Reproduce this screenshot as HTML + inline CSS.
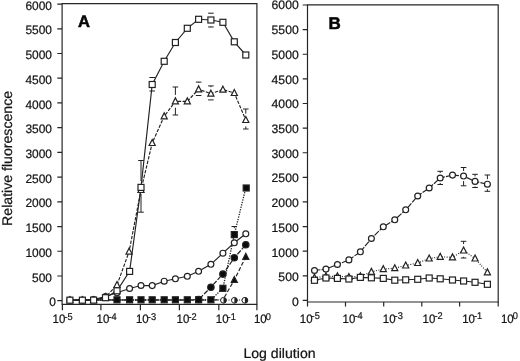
<!DOCTYPE html>
<html><head><meta charset="utf-8"><title>Figure</title>
<style>html,body{margin:0;padding:0;background:#fff}svg{display:block;will-change:transform}text{font-family:'Liberation Sans', sans-serif;fill:#141414;stroke:#141414;stroke-width:0.22px;text-rendering:geometricPrecision}</style>
</head><body>
<svg width="520" height="361" viewBox="0 0 520 361">
<rect width="520" height="361" fill="#fff"/>
<path d="M62.1 304.4V3.6H256.9V304.4Z" fill="none" stroke="#262626" stroke-width="1.2"/>
<path d="M57.3 300.7H62.1M57.3 275.98H62.1M57.3 251.26H62.1M57.3 226.54H62.1M57.3 201.82H62.1M57.3 177.1H62.1M57.3 152.38H62.1M57.3 127.66H62.1M57.3 102.94H62.1M57.3 78.22H62.1M57.3 53.5H62.1M57.3 28.78H62.1M57.3 4.06H62.1M62.4 304.4V310.2M100.9 304.4V310.2M140.4 304.4V310.2M179.4 304.4V310.2M218.8 304.4V310.2M256.9 304.4V310.2" fill="none" stroke="#262626" stroke-width="1.2"/>
<text transform="translate(55.9 306.3) scale(0.98 1)" text-anchor="end" font-size="12.2">0</text>
<text transform="translate(52 281.58) scale(0.98 1)" text-anchor="end" font-size="12.2">500</text>
<text transform="translate(52 256.86) scale(0.98 1)" text-anchor="end" font-size="12.2">1000</text>
<text transform="translate(52 232.14) scale(0.98 1)" text-anchor="end" font-size="12.2">1500</text>
<text transform="translate(52 207.42) scale(0.98 1)" text-anchor="end" font-size="12.2">2000</text>
<text transform="translate(52 182.7) scale(0.98 1)" text-anchor="end" font-size="12.2">2500</text>
<text transform="translate(52 157.98) scale(0.98 1)" text-anchor="end" font-size="12.2">3000</text>
<text transform="translate(52 133.26) scale(0.98 1)" text-anchor="end" font-size="12.2">3500</text>
<text transform="translate(52 108.54) scale(0.98 1)" text-anchor="end" font-size="12.2">4000</text>
<text transform="translate(52 83.82) scale(0.98 1)" text-anchor="end" font-size="12.2">4500</text>
<text transform="translate(52 59.1) scale(0.98 1)" text-anchor="end" font-size="12.2">5000</text>
<text transform="translate(52 34.38) scale(0.98 1)" text-anchor="end" font-size="12.2">5500</text>
<text transform="translate(52 9.66) scale(0.98 1)" text-anchor="end" font-size="12.2">6000</text>
<text transform="translate(52.6 323.4) scale(0.94 1)" font-size="12.2">10<tspan dx="-1" dy="-3.7" font-size="9.8">-5</tspan></text>
<text transform="translate(96.6 323.4) scale(0.94 1)" font-size="12.2">10<tspan dx="-1" dy="-3.7" font-size="9.8">-4</tspan></text>
<text transform="translate(136 323.4) scale(0.94 1)" font-size="12.2">10<tspan dx="-1" dy="-3.7" font-size="9.8">-3</tspan></text>
<text transform="translate(176.6 323.4) scale(0.94 1)" font-size="12.2">10<tspan dx="-1" dy="-3.7" font-size="9.8">-2</tspan></text>
<text transform="translate(215.8 323.4) scale(0.94 1)" font-size="12.2">10<tspan dx="-1" dy="-3.7" font-size="9.8">-1</tspan></text>
<text transform="translate(254 323.4) scale(0.94 1)" font-size="12.2">10<tspan dx="-1" dy="-3.7" font-size="9.8">0</tspan></text>
<text x="78.1" y="26.5" font-size="16.6" font-weight="bold" style="fill:#050505;stroke:#050505;stroke-width:0.5px">A</text>
<path d="M69.9 300L82.4 300L93.6 300L105.5 300L117 300L129.6 300L141 300L152.2 300L164.2 300L175.4 300L187.3 300L198.6 300L210.9 300L222.9 300L234.3 300L245.8 300" fill="none" stroke="#222" stroke-width="1.15" stroke-dasharray="1 1.6"/>
<path d="M69.9 300L82.4 300L93.6 300L105.5 300L117 300L129.6 300L141 300L152.2 300L164.2 300L175.4 300L187.3 300L198.6 300L210.9 300L222.9 299.8L234.3 280L245.8 256.8" fill="none" stroke="#222" stroke-width="1.2" stroke-dasharray="4 2"/>
<path d="M69.9 300L82.4 300L93.6 300L105.5 300L117 300L129.6 300L141 300L152.2 300L164.2 300L175.4 300L187.3 300L198.6 299.5L210.9 287.2L222.9 274.1L234.3 257.8L245.8 244.8" fill="none" stroke="#222" stroke-width="1.2" stroke-dasharray="5 1.5"/>
<path d="M69.9 300L82.4 300L93.6 300L105.5 300L117 299.8L129.6 299.8L141 299.8L152.2 299.8L164.2 299.8L175.4 299.8L187.3 299.8L198.6 299.8L210.9 299.8L222.9 288.3L234.3 234.6L245.8 188" fill="none" stroke="#222" stroke-width="1.3" stroke-dasharray="1.3 1.2"/>
<path d="M69.9 300L82.4 300L93.6 299.5L105.5 296.5L117 292.8L129.6 288.5L141 285.5L152.2 285.6L164.2 281.2L175.4 278.8L187.3 276.3L198.6 271.3L210.9 264.3L222.9 253.2L234.3 242.8L245.8 233.8" fill="none" stroke="#222" stroke-width="1.15"/>
<path d="M69.9 300.2L82.4 300.2L93.6 300.2L105.5 297L117 285L129.1 251.6L141 190L152.2 143L164.2 116.3L175.4 101.3L187.3 101.3L198.6 89.3L210.9 93.6L222.9 89.6L234.3 93L245.8 120" fill="none" stroke="#222" stroke-width="1.15" stroke-dasharray="3.4 1.4"/>
<path d="M69.9 300.2L82.4 300.2L93.6 300.1L105.5 297.7L117 290.8L129.6 271.4L141 187.4L152.2 84.5L164.2 61.3L175.4 42.5L187.3 28.3L198.6 19.3L210.9 20L222.9 22.3L234.3 41.8L245.8 55" fill="none" stroke="#222" stroke-width="1.15"/>
<path d="M138.2 160.5H143.8M141 160.5V181M138.2 212.2H143.8M141 193.8V212.2" fill="none" stroke="#222" stroke-width="1"/>
<path d="M149.4 77.5H155M152.2 77.5V78.1M149.4 91H155M152.2 90.9V91" fill="none" stroke="#222" stroke-width="1"/>
<path d="M172.6 87H178.2M175.4 87V94.9M172.6 115H178.2M175.4 107.7V115" fill="none" stroke="#222" stroke-width="1"/>
<path d="M195.8 82.1H201.4M198.6 82.1V82.9M195.8 95.5H201.4" fill="none" stroke="#222" stroke-width="1"/>
<path d="M208.1 85.9H213.7M210.9 85.9V87.2M208.1 99.9H213.7" fill="none" stroke="#222" stroke-width="1"/>
<path d="M243 109H248.6M245.8 109V113.6M243 129H248.6M245.8 126.4V129" fill="none" stroke="#222" stroke-width="1"/>
<path d="M208.1 13.2H213.7M210.9 13.2V13.6M208.1 27H213.7M210.9 26.4V27" fill="none" stroke="#222" stroke-width="1"/>
<path d="M231.5 226.5H237.1M234.3 226.5V228.2" fill="none" stroke="#222" stroke-width="1"/>
<circle cx="223.5" cy="300.3" r="2.9" fill="#fff" stroke="#222" stroke-width="1"/><path d="M223.5 297.4A2.9 2.9 0 0 1 223.5 303.2Z" fill="#222"/>
<circle cx="234.4" cy="300.3" r="2.9" fill="#fff" stroke="#222" stroke-width="1"/><path d="M234.4 297.4A2.9 2.9 0 0 1 234.4 303.2Z" fill="#222"/>
<circle cx="244.9" cy="300.3" r="2.9" fill="#fff" stroke="#222" stroke-width="1"/><path d="M244.9 297.4A2.9 2.9 0 0 1 244.9 303.2Z" fill="#222"/>
<path d="M234.3 276.58L237.35 282.48H231.25Z" fill="#0c0c0c" stroke="#222" stroke-width="1.2" stroke-linejoin="miter"/>
<path d="M245.8 253.38L248.85 259.28H242.75Z" fill="#0c0c0c" stroke="#222" stroke-width="1.2" stroke-linejoin="miter"/>
<circle cx="198.6" cy="299.5" r="3.2" fill="#0c0c0c" stroke="#222" stroke-width="1.2"/>
<circle cx="210.9" cy="287.2" r="3.2" fill="#0c0c0c" stroke="#222" stroke-width="1.2"/>
<circle cx="222.9" cy="274.1" r="3.2" fill="#0c0c0c" stroke="#222" stroke-width="1.2"/>
<circle cx="234.3" cy="257.8" r="3.2" fill="#0c0c0c" stroke="#222" stroke-width="1.2"/>
<circle cx="245.8" cy="244.8" r="3.2" fill="#0c0c0c" stroke="#222" stroke-width="1.2"/>
<circle cx="69.9" cy="300" r="2.95" fill="#fff" stroke="#222" stroke-width="1.2"/>
<circle cx="82.4" cy="300" r="2.95" fill="#fff" stroke="#222" stroke-width="1.2"/>
<circle cx="93.6" cy="299.5" r="2.95" fill="#fff" stroke="#222" stroke-width="1.2"/>
<circle cx="105.5" cy="296.5" r="2.95" fill="#fff" stroke="#222" stroke-width="1.2"/>
<circle cx="117" cy="292.8" r="2.95" fill="#fff" stroke="#222" stroke-width="1.2"/>
<circle cx="129.6" cy="288.5" r="2.95" fill="#fff" stroke="#222" stroke-width="1.2"/>
<circle cx="141" cy="285.5" r="2.95" fill="#fff" stroke="#222" stroke-width="1.2"/>
<circle cx="152.2" cy="285.6" r="2.95" fill="#fff" stroke="#222" stroke-width="1.2"/>
<circle cx="164.2" cy="281.2" r="2.95" fill="#fff" stroke="#222" stroke-width="1.2"/>
<circle cx="175.4" cy="278.8" r="2.95" fill="#fff" stroke="#222" stroke-width="1.2"/>
<circle cx="187.3" cy="276.3" r="2.95" fill="#fff" stroke="#222" stroke-width="1.2"/>
<circle cx="198.6" cy="271.3" r="2.95" fill="#fff" stroke="#222" stroke-width="1.2"/>
<circle cx="210.9" cy="264.3" r="2.95" fill="#fff" stroke="#222" stroke-width="1.2"/>
<circle cx="222.9" cy="253.2" r="2.95" fill="#fff" stroke="#222" stroke-width="1.2"/>
<circle cx="234.3" cy="242.8" r="2.95" fill="#fff" stroke="#222" stroke-width="1.2"/>
<circle cx="245.8" cy="233.8" r="2.95" fill="#fff" stroke="#222" stroke-width="1.2"/>
<rect x="114" y="296.8" width="6" height="6" fill="#0c0c0c" stroke="#222" stroke-width="1.2"/>
<rect x="126.6" y="296.8" width="6" height="6" fill="#0c0c0c" stroke="#222" stroke-width="1.2"/>
<rect x="138" y="296.8" width="6" height="6" fill="#0c0c0c" stroke="#222" stroke-width="1.2"/>
<rect x="149.2" y="296.8" width="6" height="6" fill="#0c0c0c" stroke="#222" stroke-width="1.2"/>
<rect x="161.2" y="296.8" width="6" height="6" fill="#0c0c0c" stroke="#222" stroke-width="1.2"/>
<rect x="172.4" y="296.8" width="6" height="6" fill="#0c0c0c" stroke="#222" stroke-width="1.2"/>
<rect x="184.3" y="296.8" width="6" height="6" fill="#0c0c0c" stroke="#222" stroke-width="1.2"/>
<rect x="195.6" y="296.8" width="6" height="6" fill="#0c0c0c" stroke="#222" stroke-width="1.2"/>
<rect x="207.9" y="296.8" width="6" height="6" fill="#0c0c0c" stroke="#222" stroke-width="1.2"/>
<rect x="219.9" y="285.3" width="6" height="6" fill="#0c0c0c" stroke="#222" stroke-width="1.2"/>
<rect x="231.3" y="231.6" width="6" height="6" fill="#0c0c0c" stroke="#222" stroke-width="1.2"/>
<rect x="243.2" y="185" width="6" height="6" fill="#0c0c0c" stroke="#222" stroke-width="1.2"/>
<path d="M69.9 296.78L72.95 302.68H66.85Z" fill="#fff" stroke="#222" stroke-width="1.2" stroke-linejoin="miter"/>
<path d="M82.4 296.78L85.45 302.68H79.35Z" fill="#fff" stroke="#222" stroke-width="1.2" stroke-linejoin="miter"/>
<path d="M93.6 296.78L96.65 302.68H90.55Z" fill="#fff" stroke="#222" stroke-width="1.2" stroke-linejoin="miter"/>
<path d="M105.5 293.58L108.55 299.48H102.45Z" fill="#fff" stroke="#222" stroke-width="1.2" stroke-linejoin="miter"/>
<path d="M117 281.58L120.05 287.48H113.95Z" fill="#fff" stroke="#222" stroke-width="1.2" stroke-linejoin="miter"/>
<path d="M129.1 248.18L132.15 254.08H126.05Z" fill="#fff" stroke="#222" stroke-width="1.2" stroke-linejoin="miter"/>
<path d="M141 186.58L144.05 192.48H137.95Z" fill="#fff" stroke="#222" stroke-width="1.2" stroke-linejoin="miter"/>
<path d="M152.2 139.58L155.25 145.48H149.15Z" fill="#fff" stroke="#222" stroke-width="1.2" stroke-linejoin="miter"/>
<path d="M164.2 112.88L167.25 118.78H161.15Z" fill="#fff" stroke="#222" stroke-width="1.2" stroke-linejoin="miter"/>
<path d="M175.4 97.88L178.45 103.78H172.35Z" fill="#fff" stroke="#222" stroke-width="1.2" stroke-linejoin="miter"/>
<path d="M187.3 97.88L190.35 103.78H184.25Z" fill="#fff" stroke="#222" stroke-width="1.2" stroke-linejoin="miter"/>
<path d="M198.6 85.88L201.65 91.78H195.55Z" fill="#fff" stroke="#222" stroke-width="1.2" stroke-linejoin="miter"/>
<path d="M210.9 90.18L213.95 96.08H207.85Z" fill="#fff" stroke="#222" stroke-width="1.2" stroke-linejoin="miter"/>
<path d="M222.9 86.18L225.95 92.08H219.85Z" fill="#fff" stroke="#222" stroke-width="1.2" stroke-linejoin="miter"/>
<path d="M234.3 89.58L237.35 95.48H231.25Z" fill="#fff" stroke="#222" stroke-width="1.2" stroke-linejoin="miter"/>
<path d="M245.8 116.58L248.85 122.48H242.75Z" fill="#fff" stroke="#222" stroke-width="1.2" stroke-linejoin="miter"/>
<rect x="66.9" y="297.2" width="6" height="6" fill="#fff" stroke="#222" stroke-width="1.2"/>
<rect x="79.4" y="297.2" width="6" height="6" fill="#fff" stroke="#222" stroke-width="1.2"/>
<rect x="90.6" y="297.1" width="6" height="6" fill="#fff" stroke="#222" stroke-width="1.2"/>
<rect x="102.5" y="294.7" width="6" height="6" fill="#fff" stroke="#222" stroke-width="1.2"/>
<rect x="114" y="287.8" width="6" height="6" fill="#fff" stroke="#222" stroke-width="1.2"/>
<rect x="126.6" y="268.4" width="6" height="6" fill="#fff" stroke="#222" stroke-width="1.2"/>
<rect x="138" y="184.4" width="6" height="6" fill="#fff" stroke="#222" stroke-width="1.2"/>
<rect x="149.2" y="81.5" width="6" height="6" fill="#fff" stroke="#222" stroke-width="1.2"/>
<rect x="161.2" y="58.3" width="6" height="6" fill="#fff" stroke="#222" stroke-width="1.2"/>
<rect x="172.4" y="39.5" width="6" height="6" fill="#fff" stroke="#222" stroke-width="1.2"/>
<rect x="184.3" y="25.3" width="6" height="6" fill="#fff" stroke="#222" stroke-width="1.2"/>
<rect x="195.6" y="16.3" width="6" height="6" fill="#fff" stroke="#222" stroke-width="1.2"/>
<rect x="207.9" y="17" width="6" height="6" fill="#fff" stroke="#222" stroke-width="1.2"/>
<rect x="219.9" y="19.3" width="6" height="6" fill="#fff" stroke="#222" stroke-width="1.2"/>
<rect x="231.3" y="38.8" width="6" height="6" fill="#fff" stroke="#222" stroke-width="1.2"/>
<rect x="242.8" y="52" width="6" height="6" fill="#fff" stroke="#222" stroke-width="1.2"/>
<path d="M307.5 302V4.9H498.2V302Z" fill="none" stroke="#262626" stroke-width="1.2"/>
<path d="M302.7 300.45H307.5M302.7 275.83H307.5M302.7 251.21H307.5M302.7 226.59H307.5M302.7 201.97H307.5M302.7 177.35H307.5M302.7 152.73H307.5M302.7 128.11H307.5M302.7 103.49H307.5M302.7 78.87H307.5M302.7 54.25H307.5M302.7 29.63H307.5M302.7 5.01H307.5M307.5 302V306.5M345.5 302V306.5M383.7 302V306.5M421.8 302V306.5M459.6 302V306.5M498.2 302V306.5" fill="none" stroke="#262626" stroke-width="1.2"/>
<text transform="translate(298.7 306.05) scale(1.0 1)" text-anchor="end" font-size="12.2">0</text>
<text transform="translate(298.7 281.33) scale(1.0 1)" text-anchor="end" font-size="12.2">500</text>
<text transform="translate(298.7 256.61) scale(1.0 1)" text-anchor="end" font-size="12.2">1000</text>
<text transform="translate(298.7 231.89) scale(1.0 1)" text-anchor="end" font-size="12.2">1500</text>
<text transform="translate(298.7 207.17) scale(1.0 1)" text-anchor="end" font-size="12.2">2000</text>
<text transform="translate(298.7 182.45) scale(1.0 1)" text-anchor="end" font-size="12.2">2500</text>
<text transform="translate(298.7 157.73) scale(1.0 1)" text-anchor="end" font-size="12.2">3000</text>
<text transform="translate(298.7 133.01) scale(1.0 1)" text-anchor="end" font-size="12.2">3500</text>
<text transform="translate(298.7 108.29) scale(1.0 1)" text-anchor="end" font-size="12.2">4000</text>
<text transform="translate(298.7 83.57) scale(1.0 1)" text-anchor="end" font-size="12.2">4500</text>
<text transform="translate(298.7 58.85) scale(1.0 1)" text-anchor="end" font-size="12.2">5000</text>
<text transform="translate(298.7 34.13) scale(1.0 1)" text-anchor="end" font-size="12.2">5500</text>
<text transform="translate(298.7 9.41) scale(1.0 1)" text-anchor="end" font-size="12.2">6000</text>
<text transform="translate(299.8 322.7) scale(0.94 1)" font-size="12.2">10<tspan dx="-1" dy="-3.7" font-size="9.8">-5</tspan></text>
<text transform="translate(342.6 322.7) scale(0.94 1)" font-size="12.2">10<tspan dx="-1" dy="-3.7" font-size="9.8">-4</tspan></text>
<text transform="translate(382.8 322.7) scale(0.94 1)" font-size="12.2">10<tspan dx="-1" dy="-3.7" font-size="9.8">-3</tspan></text>
<text transform="translate(422.6 322.7) scale(0.94 1)" font-size="12.2">10<tspan dx="-1" dy="-3.7" font-size="9.8">-2</tspan></text>
<text transform="translate(462.2 322.7) scale(0.94 1)" font-size="12.2">10<tspan dx="-1" dy="-3.7" font-size="9.8">-1</tspan></text>
<text transform="translate(501 322.7) scale(0.94 1)" font-size="12.2">10<tspan dx="-1" dy="-3.7" font-size="9.8">0</tspan></text>
<text x="328.4" y="28.8" font-size="17" font-weight="bold" style="fill:#050505;stroke:#050505;stroke-width:0.5px">B</text>
<path d="M314.48 270.5L325.95 269.1L337.42 264.5L348.89 259.9L360.36 251.8L371.4 238.5L383.3 226.8L394.77 219.8L405.7 209.8L417.71 196L429.18 188L440.2 178L452.5 175.1L463.59 176.05L475.06 181.4L487.4 184.2" fill="none" stroke="#222" stroke-width="1.15" stroke-dasharray="6 1.2"/>
<path d="M314.48 277.6L325.95 276.3L337.42 276.3L348.89 276.9L360.36 276.2L371.4 271.8L383.3 269.1L394.77 268.2L405.7 265.5L417.71 263L429.18 258.5L440.2 256.8L452.5 257.3L463.59 250.5L475.06 258.5L487.4 272.3" fill="none" stroke="#222" stroke-width="1.15" stroke-dasharray="1 1.5"/>
<path d="M314.48 280.3L325.95 278L337.42 278.4L348.89 279L360.36 277.4L371.4 277.8L383.3 278.4L394.77 280.2L405.7 279.8L417.71 279.3L429.18 278L440.2 278.8L452.5 280L463.59 281L475.06 282.3L487.4 284.3" fill="none" stroke="#222" stroke-width="1.15"/>
<path d="M437.4 171.3H443M440.2 171.3V173M437.4 184.5H443M440.2 183V184.5" fill="none" stroke="#222" stroke-width="1"/>
<path d="M460.79 167.5H466.39M463.59 167.5V171.05M460.79 185.8H466.39M463.59 181.05V185.8" fill="none" stroke="#222" stroke-width="1"/>
<path d="M472.26 174.3H477.86M475.06 174.3V176.4M472.26 187.5H477.86M475.06 186.4V187.5" fill="none" stroke="#222" stroke-width="1"/>
<path d="M484.6 175H490.2M487.4 175V179.2M484.6 191.3H490.2M487.4 189.2V191.3" fill="none" stroke="#222" stroke-width="1"/>
<path d="M460.79 241.3H466.39M463.59 241.3V244.1M460.79 258H466.39M463.59 256.9V258" fill="none" stroke="#222" stroke-width="1"/>
<circle cx="314.48" cy="270.5" r="2.95" fill="#fff" stroke="#222" stroke-width="1.2"/>
<circle cx="325.95" cy="269.1" r="2.95" fill="#fff" stroke="#222" stroke-width="1.2"/>
<circle cx="337.42" cy="264.5" r="2.95" fill="#fff" stroke="#222" stroke-width="1.2"/>
<circle cx="348.89" cy="259.9" r="2.95" fill="#fff" stroke="#222" stroke-width="1.2"/>
<circle cx="360.36" cy="251.8" r="2.95" fill="#fff" stroke="#222" stroke-width="1.2"/>
<circle cx="371.4" cy="238.5" r="2.95" fill="#fff" stroke="#222" stroke-width="1.2"/>
<circle cx="383.3" cy="226.8" r="2.95" fill="#fff" stroke="#222" stroke-width="1.2"/>
<circle cx="394.77" cy="219.8" r="2.95" fill="#fff" stroke="#222" stroke-width="1.2"/>
<circle cx="405.7" cy="209.8" r="2.95" fill="#fff" stroke="#222" stroke-width="1.2"/>
<circle cx="417.71" cy="196" r="2.95" fill="#fff" stroke="#222" stroke-width="1.2"/>
<circle cx="429.18" cy="188" r="2.95" fill="#fff" stroke="#222" stroke-width="1.2"/>
<circle cx="440.2" cy="178" r="2.95" fill="#fff" stroke="#222" stroke-width="1.2"/>
<circle cx="452.5" cy="175.1" r="2.95" fill="#fff" stroke="#222" stroke-width="1.2"/>
<circle cx="463.59" cy="176.05" r="2.95" fill="#fff" stroke="#222" stroke-width="1.2"/>
<circle cx="475.06" cy="181.4" r="2.95" fill="#fff" stroke="#222" stroke-width="1.2"/>
<circle cx="487.4" cy="184.2" r="2.95" fill="#fff" stroke="#222" stroke-width="1.2"/>
<path d="M314.48 274.18L317.53 280.08H311.43Z" fill="#fff" stroke="#222" stroke-width="1.2" stroke-linejoin="miter"/>
<path d="M325.95 272.88L329 278.78H322.9Z" fill="#fff" stroke="#222" stroke-width="1.2" stroke-linejoin="miter"/>
<path d="M337.42 272.88L340.47 278.78H334.37Z" fill="#fff" stroke="#222" stroke-width="1.2" stroke-linejoin="miter"/>
<path d="M348.89 273.48L351.94 279.38H345.84Z" fill="#fff" stroke="#222" stroke-width="1.2" stroke-linejoin="miter"/>
<path d="M360.36 272.78L363.41 278.68H357.31Z" fill="#fff" stroke="#222" stroke-width="1.2" stroke-linejoin="miter"/>
<path d="M371.4 268.38L374.45 274.28H368.35Z" fill="#fff" stroke="#222" stroke-width="1.2" stroke-linejoin="miter"/>
<path d="M383.3 265.68L386.35 271.58H380.25Z" fill="#fff" stroke="#222" stroke-width="1.2" stroke-linejoin="miter"/>
<path d="M394.77 264.78L397.82 270.68H391.72Z" fill="#fff" stroke="#222" stroke-width="1.2" stroke-linejoin="miter"/>
<path d="M405.7 262.08L408.75 267.98H402.65Z" fill="#fff" stroke="#222" stroke-width="1.2" stroke-linejoin="miter"/>
<path d="M417.71 259.58L420.76 265.48H414.66Z" fill="#fff" stroke="#222" stroke-width="1.2" stroke-linejoin="miter"/>
<path d="M429.18 255.08L432.23 260.98H426.13Z" fill="#fff" stroke="#222" stroke-width="1.2" stroke-linejoin="miter"/>
<path d="M440.2 253.38L443.25 259.28H437.15Z" fill="#fff" stroke="#222" stroke-width="1.2" stroke-linejoin="miter"/>
<path d="M452.5 253.88L455.55 259.78H449.45Z" fill="#fff" stroke="#222" stroke-width="1.2" stroke-linejoin="miter"/>
<path d="M463.59 247.08L466.64 252.98H460.54Z" fill="#fff" stroke="#222" stroke-width="1.2" stroke-linejoin="miter"/>
<path d="M475.06 255.08L478.11 260.98H472.01Z" fill="#fff" stroke="#222" stroke-width="1.2" stroke-linejoin="miter"/>
<path d="M487.4 268.88L490.45 274.78H484.35Z" fill="#fff" stroke="#222" stroke-width="1.2" stroke-linejoin="miter"/>
<rect x="311.48" y="277.3" width="6" height="6" fill="#fff" stroke="#222" stroke-width="1.2"/>
<rect x="322.95" y="275" width="6" height="6" fill="#fff" stroke="#222" stroke-width="1.2"/>
<rect x="334.42" y="275.4" width="6" height="6" fill="#fff" stroke="#222" stroke-width="1.2"/>
<rect x="345.89" y="276" width="6" height="6" fill="#fff" stroke="#222" stroke-width="1.2"/>
<rect x="357.36" y="274.4" width="6" height="6" fill="#fff" stroke="#222" stroke-width="1.2"/>
<rect x="368.4" y="274.8" width="6" height="6" fill="#fff" stroke="#222" stroke-width="1.2"/>
<rect x="380.3" y="275.4" width="6" height="6" fill="#fff" stroke="#222" stroke-width="1.2"/>
<rect x="391.77" y="277.2" width="6" height="6" fill="#fff" stroke="#222" stroke-width="1.2"/>
<rect x="402.7" y="276.8" width="6" height="6" fill="#fff" stroke="#222" stroke-width="1.2"/>
<rect x="414.71" y="276.3" width="6" height="6" fill="#fff" stroke="#222" stroke-width="1.2"/>
<rect x="426.18" y="275" width="6" height="6" fill="#fff" stroke="#222" stroke-width="1.2"/>
<rect x="437.2" y="275.8" width="6" height="6" fill="#fff" stroke="#222" stroke-width="1.2"/>
<rect x="449.5" y="277" width="6" height="6" fill="#fff" stroke="#222" stroke-width="1.2"/>
<rect x="460.59" y="278" width="6" height="6" fill="#fff" stroke="#222" stroke-width="1.2"/>
<rect x="472.06" y="279.3" width="6" height="6" fill="#fff" stroke="#222" stroke-width="1.2"/>
<rect x="484.4" y="281.3" width="6" height="6" fill="#fff" stroke="#222" stroke-width="1.2"/>
<text transform="translate(11.9 225.9) rotate(-90)" font-size="14" textLength="135" lengthAdjust="spacingAndGlyphs">Relative fluorescence</text>
<text x="243.4" y="357.7" font-size="13.8" textLength="72.2" lengthAdjust="spacingAndGlyphs">Log dilution</text>
</svg></body></html>
